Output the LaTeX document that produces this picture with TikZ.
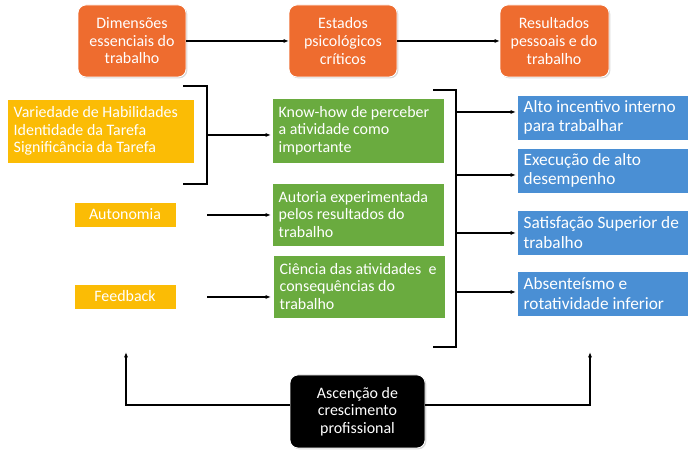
\documentclass[tikz,border=0pt]{standalone}
\usepackage{fontspec}
\setmainfont{Carlito}
\usetikzlibrary{arrows.meta,shadows}

\definecolor{orangetop}{HTML}{EE6C2F}
\definecolor{yellowbox}{HTML}{FBBC05}
\definecolor{greenbox}{HTML}{6AAB3F}
\definecolor{bluebox}{HTML}{4A8FD4}

\tikzset{
  box/.style={draw=white, line width=0.6pt, text=white, drop shadow={opacity=0.3,shadow xshift=1pt,shadow yshift=-1pt}},
  top/.style={box, fill=orangetop, rounded corners=6pt, align=center},
  dim/.style={box, fill=yellowbox, align=left},
  est/.style={box, fill=greenbox, align=left},
  res/.style={box, fill=bluebox, align=left},
  restext/.style={text=white, anchor=west, align=left, font=\fontsize{13}{14.5}\selectfont},
  link/.style={-{Latex[length=4pt,width=3pt]}, line width=0.8pt},
}

\begin{document}
\begin{tikzpicture}[x=0.0264583cm, y=-0.0264583cm, font=\fontsize{12}{13.2}\selectfont]

\useasboundingbox (0,0) rectangle (693,456);

% top row
\draw[top] (78,5) rectangle (186,77);
\node (dimensoes) at (132,41) [text=white, align=center] {Dimensões\\essenciais do\\trabalho};
\draw[top] (289,5) rectangle (397,77);
\node (estados) at (343,41) [text=white, align=center] {Estados\\psicológicos\\críticos};
\draw[top] (500,5) rectangle (609,77);
\node (resultados) at (554,41) [text=white, align=center] {Resultados\\pessoais e do\\trabalho};
\draw[link] (186,41) -- (289,41);
\draw[link] (397,41) -- (500,41);

% dimensions
\draw[dim] (7,99) rectangle (194,163);
\node (variedade) at (9,131) [text=white, anchor=west, align=left] {Variedade de Habilidades\\Identidade da Tarefa\\Significância da Tarefa};
\draw[dim] (74,202) rectangle (176,227);
\node (autonomia) at (125,214.5) [text=white] {Autonomia};
\draw[dim] (74,284) rectangle (176,309);
\node (feedback) at (125,296.5) [text=white] {Feedback};

\draw[line width=0.8pt] (183,86) -- (207,86) -- (207,184) -- (183,184);

% states
\draw[est] (272,98) rectangle (444,163);
\node (knowhow) at (274,130.5) [text=white, anchor=west, align=left] {Know-how de perceber\\a atividade como\\importante};
\draw[est] (272,183) rectangle (444,246);
\node (autoria) at (274,214.5) [text=white, anchor=west, align=left] {Autoria experimentada\\pelos resultados do\\trabalho};
\draw[est] (273,255) rectangle (445,318);
\node (ciencia) at (275,286.5) [text=white, anchor=west, align=left] {Ciência das atividades~ e\\consequências do\\trabalho};

\draw[link] (207,135) -- (271,135);
\draw[link] (207,215) -- (271,215);
\draw[link] (207,297) -- (271,297);

\draw[line width=0.8pt] (433,90) -- (456,90) -- (456,347) -- (433,347);

% results
\draw[res] (517,95) rectangle (688,140);
\node (incentivo) at (519,117.5) [restext] {Alto incentivo interno\\para trabalhar};
\draw[res] (517,148) rectangle (688,193);
\node (execucao) at (519,170.5) [restext] {Execução de alto\\desempenho};
\draw[res] (517,210) rectangle (688,255);
\node (satisfacao) at (519,232.5) [restext] {Satisfação Superior de\\trabalho};
\draw[res] (517,271) rectangle (688,316);
\node (absenteismo) at (519,293.5) [restext] {Absenteísmo e\\rotatividade inferior};

\foreach \y in {112,175,233,292}
  \draw[link] (456,\y) -- (516,\y);

% growth
\draw[box, fill=black, rounded corners=6pt] (290,375) rectangle (425,448);
\node (ascencao) at (357.5,411.5) [text=white, align=center] {Ascenção de\\crescimento\\profissional};
\draw[link] (290,405) -- (126,405) -- (126,352);
\draw[link] (425,405) -- (590,405) -- (590,352);

\end{tikzpicture}
\end{document}
